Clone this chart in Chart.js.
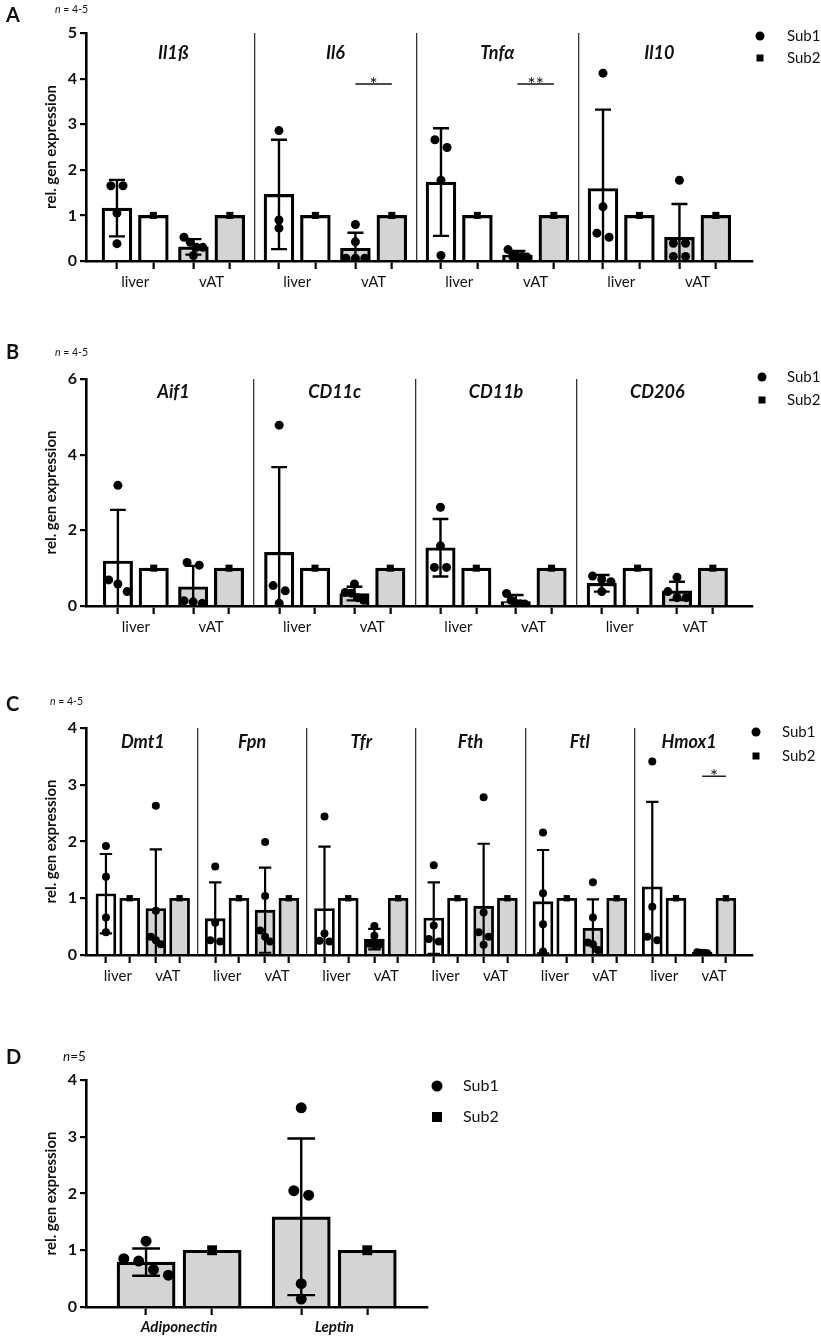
<!DOCTYPE html>
<html>
<head>
<meta charset="utf-8">
<script src="https://cdn.jsdelivr.net/npm/chart.js@4.4.1/dist/chart.umd.min.js"></script>
<style>
  body { margin: 0; background: #fff; width: 821px; height: 1339px; position: relative; overflow: hidden; }
  canvas.panel { position: absolute; left: 0; }
</style>
</head>
<body>
<canvas id="panelA" class="panel" width="821" height="300" style="top:0px"></canvas>
<canvas id="panelB" class="panel" width="821" height="345" style="top:300px"></canvas>
<canvas id="panelC" class="panel" width="821" height="345" style="top:650px"></canvas>
<canvas id="panelD" class="panel" width="821" height="339" style="top:1000px"></canvas>
<script>
const tissues = ['liver', 'vAT'];
const seriesNames = ['Sub1', 'Sub2'];

// A - cytokines
const genesA = ['Il1ß', 'Il6', 'Tnfα', 'Il10'];
const sub1MeanA = [[1.16, 0.31], [1.46, 0.28], [1.73, 0.13], [1.59, 0.52]];
const sub1SdA = [[0.62, 0.17], [1.20, 0.34], [1.18, 0.09], [1.73, 0.73]];
const sub1DotsA = [
  [[1.65, 1.65, 1.05, 0.38], [0.52, 0.41, 0.30, 0.30, 0.12]],
  [[2.86, 0.90, 0.72], [0.80, 0.42, 0.06, 0.06, 0.06]],
  [[2.66, 2.49, 1.77, 0.12], [0.25, 0.11, 0.10, 0.10, 0.09]],
  [[4.12, 1.19, 0.61, 0.52], [1.77, 0.39, 0.39, 0.10, 0.10]]
];
const sub2MeanA = [[1, 1], [1, 1], [1, 1], [1, 1]];
const signifA = [[1, '*', 3.88], [2, '**', 3.88]];
const yTicksA = [0, 1, 2, 3, 4, 5];

// B - macrophage markers
const genesB = ['Aif1', 'CD11c', 'CD11b', 'CD206'];
const sub1MeanB = [[1.19, 0.51], [1.42, 0.33], [1.54, 0.12], [0.60, 0.40]];
const sub1SdB = [[1.35, 0.55], [2.25, 0.18], [0.76, 0.17], [0.22, 0.24]];
const sub1DotsB = [
  [[3.19, 0.69, 0.58, 0.38], [1.15, 1.08, 0.14, 0.11, 0.07]],
  [[4.78, 0.54, 0.40, 0.07], [0.58, 0.36, 0.34, 0.22, 0.15]],
  [[2.61, 1.59, 1.02, 1.02], [0.33, 0.15, 0.07, 0.06, 0.05]],
  [[0.79, 0.70, 0.64, 0.38], [0.76, 0.38, 0.22, 0.22]]
];
const sub2MeanB = [[1, 1], [1, 1], [1, 1], [1, 1]];
const signifB = [];
const yTicksB = [0, 2, 4, 6];

// C - iron metabolism
const genesC = ['Dmt1', 'Fpn', 'Tfr', 'Fth', 'Ftl', 'Hmox1'];
const sub1MeanC = [[1.08, 0.82], [0.64, 0.79], [0.82, 0.28], [0.65, 0.86], [0.94, 0.47], [1.20, 0.05]];
const sub1SdC = [[0.70, 1.04], [0.64, 0.75], [1.09, 0.18], [0.63, 1.10], [0.91, 0.51], [1.50, 0.02]];
const sub1DotsC = [
  [[1.92, 1.38, 0.66, 0.40], [2.63, 0.78, 0.32, 0.26, 0.19]],
  [[1.56, 0.57, 0.26, 0.24], [1.99, 1.04, 0.43, 0.32, 0.24]],
  [[2.44, 0.38, 0.25, 0.24], [0.51, 0.34, 0.20, 0.18, 0.18]],
  [[1.58, 0.52, 0.28, 0.24], [2.78, 0.75, 0.40, 0.32, 0.18]],
  [[2.16, 1.09, 0.54, 0.06], [1.28, 0.66, 0.22, 0.19, 0.09]],
  [[3.41, 0.85, 0.32, 0.26], [0.05, 0.04, 0.04, 0.03]]
];
const sub2MeanC = [[1, 1], [1, 1], [1, 1], [1, 1], [1, 1], [1, 1]];
const signifC = [[5, '*', 3.15]];
const yTicksC = [0, 1, 2, 3, 4];

// D - adipokines
const genesD = ['Adiponectin', 'Leptin'];
const sub1MeanD = [[0.79], [1.59]];
const sub1SdD = [[0.24], [1.38]];
const sub1DotsD = [[[1.16, 0.85, 0.81, 0.66, 0.56]], [[3.51, 2.05, 1.97, 0.41, 0.14]]];
const sub2MeanD = [[1], [1]];
const yTicksD = [0, 1, 2, 3, 4];

const FONT = 'Lato, "Open Sans", sans-serif';
const GREY = '#d4d4d4';
Chart.defaults.font.family = FONT;
Chart.defaults.color = '#111';

const panelCfg = new Map();

function swarmOffsets(pys, d, maxSpread) {
  // spread dots that would overlap, symmetric around the bar centre
  const order = pys.map((p, i) => i).sort((a, b) => pys[a] - pys[b]);
  const offs = new Array(pys.length).fill(0);
  let cluster = [order[0]];
  const flush = () => {
    const k = cluster.length;
    if (k < 2) return;
    const step = Math.min(d * 1.35, maxSpread / (k - 1));
    cluster.forEach((idx, j) => { offs[idx] = (j - (k - 1) / 2) * step; });
  };
  for (let i = 1; i < order.length; i++) {
    if (pys[order[i]] - pys[order[i - 1]] < d * 0.9) cluster.push(order[i]);
    else { flush(); cluster = [order[i]]; }
  }
  flush();
  return offs;
}

function buildXTicks(cfg) {
  const list = [];
  const nT = cfg.mean[0].length;
  cfg.genes.forEach((gene, g) => {
    for (let t = 0; t < nT; t++) {
      const x0 = g * cfg.P + t * cfg.T;
      list.push({ value: x0, kind: 'bar' });
      list.push({ value: x0 + 1, kind: 'bar' });
      list.push({ value: x0 + 0.5, kind: 'label', text: cfg.groupLabel(g, t) });
    }
    if (cfg.separators && g < cfg.genes.length - 1) {
      const lastBar = g * cfg.P + (nT - 1) * cfg.T + 1;
      list.push({ value: (lastBar + (g + 1) * cfg.P) / 2, kind: 'sep' });
    }
  });
  return list.sort((a, b) => a.value - b.value);
}

const panelDecor = {
  id: 'panelDecor',
  afterDatasetDraw(chart, args) {
    if (args.meta.type !== 'bar') return;
    const cfg = panelCfg.get(chart.canvas.id);
    const xs = chart.scales.x, ys = chart.scales.y;
    const ctx = chart.ctx;
    const cap = xs.getPixelForValue(cfg.capHalf) - xs.getPixelForValue(0);
    ctx.save();
    ctx.strokeStyle = '#000';
    ctx.lineWidth = cfg.errW;
    cfg.mean.forEach((row, g) => row.forEach((m, t) => {
      const sd = cfg.sd[g][t];
      const x = xs.getPixelForValue(g * cfg.P + t * cfg.T);
      const yTop = ys.getPixelForValue(m + sd);
      const low = m - sd;
      const yLow = ys.getPixelForValue(Math.max(low, 0));
      ctx.beginPath();
      ctx.moveTo(x, yLow); ctx.lineTo(x, yTop);
      ctx.moveTo(x - cap, yTop); ctx.lineTo(x + cap, yTop);
      if (low > 0) { ctx.moveTo(x - cap, yLow); ctx.lineTo(x + cap, yLow); }
      ctx.stroke();
    }));
    ctx.restore();
  },
  afterDraw(chart) {
    const cfg = panelCfg.get(chart.canvas.id);
    const xs = chart.scales.x, ys = chart.scales.y;
    const ctx = chart.ctx;
    ctx.save();
    ctx.fillStyle = '#111';
    ctx.strokeStyle = '#111';
    ctx.textBaseline = 'middle';

    // panel letter and n
    ctx.textAlign = 'left';
    ctx.font = 'bold 20px ' + FONT;
    ctx.fillText(cfg.letter, 6, cfg.letterY);
    ctx.font = 'italic ' + cfg.nSize + 'px ' + FONT;
    ctx.fillText('n', cfg.nX, cfg.nY);
    const nw = ctx.measureText('n').width;
    ctx.font = cfg.nSize + 'px ' + FONT;
    ctx.fillText(cfg.nRest, cfg.nX + nw, cfg.nY);

    // gene headers
    if (cfg.headerY) {
      ctx.textAlign = 'center';
      ctx.font = 'italic bold 18px ' + FONT;
      cfg.genes.forEach((gene, g) => {
        ctx.fillText(gene, xs.getPixelForValue(g * cfg.P + (cfg.T + 1) / 2), cfg.headerY);
      });
    }

    // significance
    cfg.signif.forEach(([g, mark, v]) => {
      const x1 = xs.getPixelForValue(g * cfg.P + cfg.T);
      const x2 = xs.getPixelForValue(g * cfg.P + cfg.T + 1);
      const y = ys.getPixelForValue(v);
      ctx.lineWidth = 1.4;
      ctx.beginPath(); ctx.moveTo(x1, y); ctx.lineTo(x2, y); ctx.stroke();
      ctx.textAlign = 'center';
      ctx.textBaseline = 'alphabetic';
      ctx.font = '19px ' + FONT;
      ctx.fillText(mark, (x1 + x2) / 2, y + 7);
      ctx.textBaseline = 'middle';
    });

    // legend
    const lg = cfg.legend;
    ctx.fillStyle = '#000';
    ctx.beginPath(); ctx.arc(lg.x, lg.y1, lg.r, 0, Math.PI * 2); ctx.fill();
    ctx.fillRect(lg.x - lg.s / 2, lg.y2 - lg.s / 2, lg.s, lg.s);
    ctx.fillStyle = '#111';
    ctx.textAlign = 'left';
    ctx.font = lg.size + 'px ' + FONT;
    ctx.fillText(seriesNames[0], lg.tx, lg.y1);
    ctx.fillText(seriesNames[1], lg.tx, lg.y2);
    ctx.restore();
  }
};

function drawPanel(cfg) {
  panelCfg.set(cfg.id, cfg);
  const bars = [], fills = [], squares = [], dots = [];
  cfg.mean.forEach((row, g) => row.forEach((m, t) => {
    const x0 = g * cfg.P + t * cfg.T;
    const fill = cfg.fill(t);
    bars.push({ x: x0, y: m }); fills.push(fill);
    bars.push({ x: x0 + 1, y: cfg.sub2[g][t] }); fills.push(fill);
    squares.push({ x: x0 + 1, y: cfg.sub2[g][t] });
    cfg.dots[g][t].forEach(v => dots.push({ x: x0, y: v }));
  }));
  const xTicks = buildXTicks(cfg);

  const chart = new Chart(document.getElementById(cfg.id), {
    type: 'bar',
    data: {
      datasets: [
        { type: 'scatter', label: seriesNames[0], data: dots, pointRadius: cfg.dotR,
          pointBackgroundColor: '#000', pointBorderWidth: 0, pointStyle: 'circle' },
        { type: 'scatter', label: seriesNames[1], data: squares, pointRadius: cfg.sqR,
          pointBackgroundColor: '#000', pointBorderWidth: 0, pointStyle: 'rect' },
        { label: 'mean', data: bars, backgroundColor: fills, borderColor: '#000',
          borderWidth: cfg.barBorder, barThickness: 20 }
      ]
    },
    options: {
      responsive: false,
      animation: false,
      events: [],
      layout: { padding: { left: 40, right: cfg.padRight, top: cfg.padTop, bottom: 0 } },
      plugins: { legend: { display: false }, tooltip: { enabled: false } },
      scales: {
        x: {
          type: 'linear', min: cfg.xMin, max: cfg.xMax, offset: false,
          afterBuildTicks: s => { s.ticks = xTicks.map(t => Object.assign({}, t)); },
          afterFit: s => { s.height = cfg.xHeight; },
          ticks: {
            autoSkip: false, maxRotation: 0, minRotation: 0, padding: cfg.xPad,
            font: cfg.xFont, color: '#111',
            callback: (v, i, ticks) => ticks[i].text || ''
          },
          grid: {
            offset: false,
            drawOnChartArea: true,
            color: c => (c.tick && c.tick.kind === 'sep') ? '#333' : 'rgba(0,0,0,0)',
            lineWidth: 1.3,
            tickColor: c => (c.tick && c.tick.kind === 'bar') ? '#000' : 'rgba(0,0,0,0)',
            tickWidth: 2.2,
            tickLength: 8
          },
          border: { display: true, color: '#000', width: 2.6 }
        },
        y: {
          type: 'linear', min: 0, max: cfg.yMax,
          afterBuildTicks: s => { s.ticks = cfg.yTicks.map(v => ({ value: v })); },
          afterFit: s => { s.width = 46; },
          ticks: { font: { size: 16, weight: 'bold' }, color: '#111', padding: 3 },
          grid: { drawOnChartArea: false, color: '#000', lineWidth: 2.2, tickLength: 6 },
          border: { display: true, color: '#000', width: 2.6 },
          title: { display: true, text: 'rel. gen expression', color: '#111',
                   font: { size: 15, weight: 'bold' }, padding: { top: 2, bottom: 0 } }
        }
      }
    },
    plugins: [panelDecor]
  });

  // bar width and dot jitter from the rendered scales
  const xs = chart.scales.x, ys = chart.scales.y;
  const pxUnit = xs.getPixelForValue(1) - xs.getPixelForValue(0);
  const barPx = cfg.barWidth * pxUnit;
  chart.data.datasets[2].barThickness = barPx;
  const placed = [];
  cfg.dots.forEach((row, g) => row.forEach((vals, t) => {
    const x0 = g * cfg.P + t * cfg.T;
    const offs = swarmOffsets(vals.map(v => ys.getPixelForValue(v)), cfg.dotR * 2, barPx - cfg.dotR * 2 - 2);
    vals.forEach((v, i) => placed.push({ x: x0 + offs[i] / pxUnit, y: v }));
  }));
  chart.data.datasets[0].data = placed;
  chart.update('none');
}

const tissueFill = t => (t === 0 ? '#ffffff' : GREY);
const tissueFont = { size: 15 };

drawPanel({
  id: 'panelA', letter: 'A', letterY: 16, nX: 55, nY: 10, nSize: 10.5, nRest: ' = 4-5',
  genes: genesA, mean: sub1MeanA, sd: sub1SdA, dots: sub1DotsA, sub2: sub2MeanA,
  signif: signifA, yTicks: yTicksA, yMax: 5,
  groupLabel: (g, t) => tissues[t], fill: tissueFill, separators: true, xFont: tissueFont, xPad: 4,
  P: 4.45, T: 2.1, xMin: -0.85, xMax: 17.47,
  padTop: 33, xHeight: 39, padRight: 68, headerY: 53,
  barWidth: 0.82, barBorder: 3.2, capHalf: 0.22, errW: 2.4, dotR: 4.5, sqR: 5,
  legend: { x: 760, tx: 787, y1: 36, y2: 58, r: 4.5, s: 7, size: 15 }
});

drawPanel({
  id: 'panelB', letter: 'B', letterY: 53, nX: 55, nY: 53, nSize: 10.5, nRest: ' = 4-5',
  genes: genesB, mean: sub1MeanB, sd: sub1SdB, dots: sub1DotsB, sub2: sub2MeanB,
  signif: signifB, yTicks: yTicksB, yMax: 6,
  groupLabel: (g, t) => tissues[t], fill: tissueFill, separators: true, xFont: tissueFont, xPad: 4,
  P: 4.5, T: 2.1, xMin: -0.89, xMax: 17.72,
  padTop: 79, xHeight: 39, padRight: 68, headerY: 92,
  barWidth: 0.82, barBorder: 3.2, capHalf: 0.22, errW: 2.4, dotR: 4.5, sqR: 5,
  legend: { x: 762, tx: 787, y1: 77, y2: 100, r: 4.5, s: 7, size: 15 }
});

drawPanel({
  id: 'panelC', letter: 'C', letterY: 55, nX: 50, nY: 52, nSize: 10.5, nRest: ' = 4-5',
  genes: genesC, mean: sub1MeanC, sd: sub1SdC, dots: sub1DotsC, sub2: sub2MeanC,
  signif: signifC, yTicks: yTicksC, yMax: 4,
  groupLabel: (g, t) => tissues[t], fill: tissueFill, separators: true, xFont: tissueFont, xPad: 4,
  P: 4.6, T: 2.1, xMin: -0.84, xMax: 27.24,
  padTop: 78, xHeight: 40, padRight: 68, headerY: 92,
  barWidth: 0.84, barBorder: 2.8, capHalf: 0.26, errW: 2.2, dotR: 4, sqR: 4.5,
  legend: { x: 756, tx: 782, y1: 82, y2: 106, r: 4.5, s: 7, size: 15 }
});

drawPanel({
  id: 'panelD', letter: 'D', letterY: 58, nX: 63, nY: 57, nSize: 13.5, nRest: '=5',
  genes: genesD, mean: sub1MeanD, sd: sub1SdD, dots: sub1DotsD, sub2: sub2MeanD,
  signif: [], yTicks: yTicksD, yMax: 4,
  groupLabel: (g) => genesD[g], fill: () => GREY, separators: false,
  xFont: { size: 15, weight: 'bold', style: 'italic' }, xPad: 3,
  P: 2.35, T: 0, xMin: -0.91, xMax: 4.27,
  padTop: 80, xHeight: 32, padRight: 393, headerY: 0,
  barWidth: 0.88, barBorder: 3.2, capHalf: 0.21, errW: 2.4, dotR: 5.5, sqR: 7,
  legend: { x: 437, tx: 463, y1: 86, y2: 117, r: 5.5, s: 10, size: 16 }
});
</script>
</body>
</html>
